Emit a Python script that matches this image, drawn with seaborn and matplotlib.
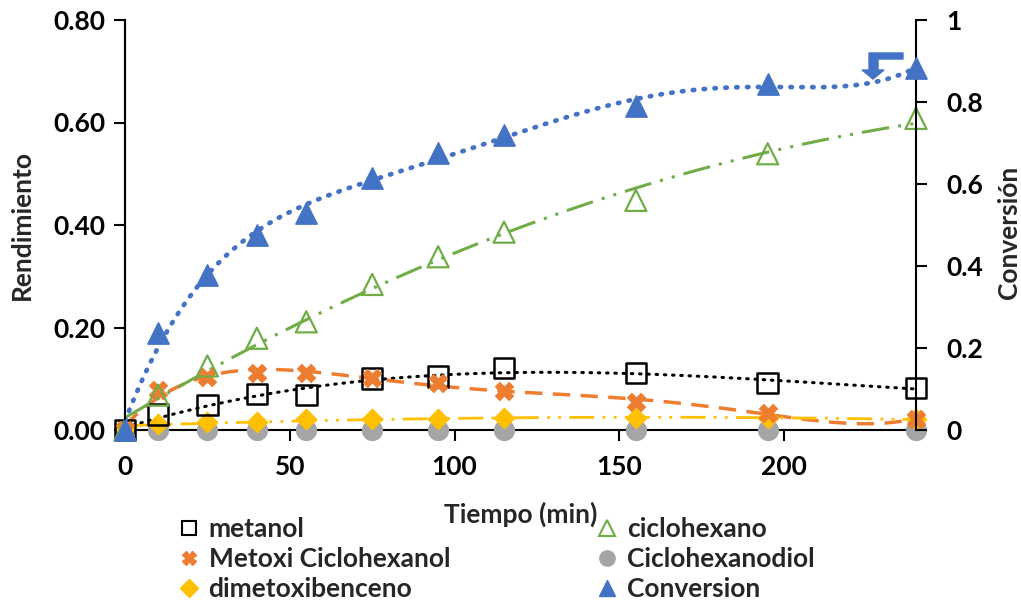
import numpy as np
import pandas as pd
import matplotlib
matplotlib.use('Agg')
import matplotlib.pyplot as plt
from matplotlib.lines import Line2D
from matplotlib.patches import Polygon
from matplotlib.transforms import IdentityTransform
import seaborn as sns

sns.set_style("white")
plt.rcParams['font.family'] = ['Lato', 'DejaVu Sans']
plt.rcParams['font.weight'] = 'bold'

# data
tiempo = [0, 10, 25, 40, 55, 75, 95, 115, 155, 195, 240]
metanol = [0.0, 0.030, 0.049, 0.070, 0.068, 0.100, 0.104, 0.121, 0.111, 0.092, 0.082]
metoxi = [0.0, 0.078, 0.104, 0.111, 0.111, 0.102, 0.091, 0.077, 0.055, 0.033, 0.022]
ciclohexano = [0.0, 0.068, 0.125, 0.179, 0.211, 0.284, 0.338, 0.386, 0.448, 0.539, 0.608]
diol = [0.0] * 11
dimetoxi = [0.003, 0.012, 0.016, 0.016, 0.021, 0.021, 0.021, 0.023, 0.023, 0.023, 0.022]
conversion = [0.0, 0.237, 0.378, 0.476, 0.529, 0.615, 0.675, 0.720, 0.790, 0.845, 0.883]

xticks = [0, 50, 100, 150, 200]
yticks_left = [0.0, 0.2, 0.4, 0.6, 0.8]
yticks_right = [0, 0.2, 0.4, 0.6, 0.8, 1]

df = pd.DataFrame({'t': tiempo, 'metanol': metanol, 'metoxi': metoxi,
                   'ciclohexano': ciclohexano, 'diol': diol,
                   'dimetoxi': dimetoxi, 'conversion': conversion})

blue = '#4472C4'
orange = '#ED7D31'
green = '#70AD47'
gray = '#A5A5A5'
yellow = '#FFC000'

# polynomial trendlines (like Excel)
tt = np.linspace(0, 240, 300)


def trend(col, order):
    p = np.polyfit(df['t'], df[col], order)
    return np.polyval(p, tt)


fig = plt.figure(figsize=(10.21, 6.02), dpi=100)
ax = fig.add_axes([125 / 1021, 1 - 430 / 602, (916 - 125) / 1021, 410 / 602])
ax2 = ax.twinx()

fs = 19

# trendlines
sns.lineplot(x=tt, y=trend('metanol', 3), color='black', lw=2.2,
             linestyle=(0, (0.5, 2.2)), dash_capstyle='round', ax=ax)
sns.lineplot(x=tt, y=trend('metoxi', 5), color=orange, lw=2.5,
             linestyle=(0, (5, 3)), ax=ax)
sns.lineplot(x=tt, y=trend('ciclohexano', 2), color=green, lw=2.2,
             linestyle=(0, (9, 3, 1, 3, 1, 3)), ax=ax)
sns.lineplot(x=tt, y=trend('diol', 1), color='#7f7f7f', lw=1.5,
             linestyle=(0, (3, 1.5)), ax=ax)
sns.lineplot(x=tt, y=trend('dimetoxi', 2), color=yellow, lw=2.0,
             linestyle=(0, (9, 3, 1, 3, 1, 3)), ax=ax)
sns.lineplot(x=tt, y=trend('conversion', 5), color=blue, lw=3.4,
             linestyle=(0, (0.3, 2.0)), dash_capstyle='round', ax=ax2)

# markers
sns.scatterplot(data=df, x='t', y='diol', marker='o', s=200, color=gray,
                edgecolor=gray, ax=ax, zorder=5, clip_on=False)
sns.scatterplot(data=df, x='t', y='dimetoxi', marker='D', s=110, color=yellow,
                edgecolor=yellow, ax=ax, zorder=6, clip_on=False)
sns.scatterplot(data=df, x='t', y='metanol', marker='s', s=220,
                facecolor='none', edgecolor='black', linewidth=1.8, ax=ax,
                zorder=6, clip_on=False)
sns.scatterplot(data=df, x='t', y='metoxi', marker='X', s=180, color=orange,
                edgecolor=orange, linewidth=0.5, ax=ax, zorder=6, clip_on=False)
sns.scatterplot(data=df, x='t', y='ciclohexano', marker='^', s=230,
                facecolor='none', edgecolor=green, linewidth=1.6, ax=ax,
                zorder=6, clip_on=False)
sns.scatterplot(data=df, x='t', y='conversion', marker='^', s=230, color=blue,
                edgecolor=blue, ax=ax2, zorder=6, clip_on=False)

ax.set_xlim(0, 240)
ax.set_ylim(0, 0.8)
ax2.set_ylim(0, 1)
ax.set_xticks(xticks)
ax.set_xticklabels([str(v) for v in xticks])
ax.set_yticks(yticks_left)
ax.set_yticklabels([f'{v:.2f}' for v in yticks_left])
ax2.set_yticks(yticks_right)
ax2.set_yticklabels([f'{v:g}' for v in yticks_right])

for a in (ax, ax2):
    a.spines['top'].set_visible(False)
    for s in a.spines.values():
        s.set_linewidth(1.5)
        s.set_color('black')
    a.tick_params(labelsize=fs, width=1.5, length=8, colors='black')
ax.tick_params(axis='x', pad=10)
ax.tick_params(axis='y', direction='out', left=True, pad=6)
ax.tick_params(axis='x', direction='out', bottom=True)
ax2.tick_params(axis='y', direction='out', right=True, pad=14)
ax2.spines['bottom'].set_visible(False)
ax.spines['right'].set_visible(False)

ax.set_xlabel('Tiempo (min)', fontsize=fs, fontweight='bold')
ax.xaxis.set_label_coords(0.5, -0.175)
ax.set_ylabel('Rendimiento', fontsize=fs, fontweight='bold')
ax.yaxis.set_label_coords(-0.115, 0.5)
ax2.set_ylabel('Conversión', fontsize=fs, fontweight='bold', rotation=90)
ax2.yaxis.set_label_coords(1.102, 0.483)

handles = [
    Line2D([], [], ls='none', marker='s', ms=10, mfc='none', mec='black', mew=1.5),
    Line2D([], [], ls='none', marker='X', ms=10, color=orange),
    Line2D([], [], ls='none', marker='D', ms=9, color=yellow),
    Line2D([], [], ls='none', marker='^', ms=11, mfc='none', mec=green, mew=1.5),
    Line2D([], [], ls='none', marker='o', ms=11, color=gray),
    Line2D([], [], ls='none', marker='^', ms=11, color=blue),
]
labels = ['metanol', 'Metoxi Ciclohexanol', 'dimetoxibenceno',
          'ciclohexano', 'Ciclohexanodiol', 'Conversion']
fig.legend(handles, labels, ncol=2, loc='upper left',
           bbox_to_anchor=(165 / 1021, 1 - 504 / 602), frameon=False,
           fontsize=fs, handlelength=0.8, handletextpad=0.35,
           columnspacing=5.55, labelspacing=0.22, borderpad=0)

# small bent arrow drawn in the original
pts = np.array([[869, 53], [903, 53], [903, 59], [878, 59], [878, 70],
                [884, 70], [873, 79], [862, 70], [869, 70]], dtype=float)
pts[:, 1] = 602 - pts[:, 1]
fig.add_artist(Polygon(pts, closed=True, color=blue, transform=IdentityTransform()))

fig.savefig('out.png', dpi=100)
